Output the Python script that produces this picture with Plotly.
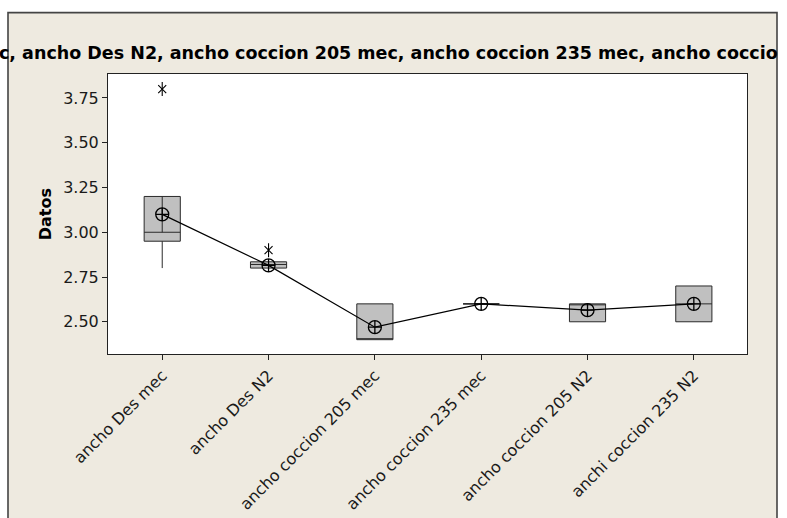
import plotly.graph_objects as go

# Columns compared in the boxplot
categories = ["ancho Des mec", "ancho Des N2", "ancho coccion 205 mec",
              "ancho coccion 235 mec", "ancho coccion 205 N2", "anchi coccion 235 N2"]

# Five-number summaries per column
q1 = [2.95, 2.80, 2.40, 2.60, 2.50, 2.50]
median = [3.00, 2.82, 2.40, 2.60, 2.60, 2.60]
q3 = [3.20, 2.835, 2.60, 2.60, 2.60, 2.70]
lower_whisker = [2.80, 2.80, 2.40, 2.60, 2.50, 2.50]
upper_whisker = [3.20, 2.835, 2.60, 2.60, 2.60, 2.70]

# Column means (connected by a line)
means = [3.10, 2.815, 2.47, 2.60, 2.565, 2.60]

# Outliers
outlier_cat = ["ancho Des mec", "ancho Des N2"]
outlier_val = [3.80, 2.90]

title_text = "c, ancho Des N2, ancho coccion 205 mec, ancho coccion 235 mec, ancho coccio"
y_ticks = [2.50, 2.75, 3.00, 3.25, 3.50, 3.75]

W, H = 787, 518
L, R, T, B = 108, 40, 73.5, 164
pw, ph = W - L - R, H - T - B


def px_x(p):
    return (p - L) / pw


def px_y(p):
    return (H - B - p) / ph


FONT = "DejaVu Sans"
fig = go.Figure()

fig.add_trace(go.Box(
    x=categories, q1=q1, median=median, q3=q3,
    lowerfence=lower_whisker, upperfence=upper_whisker,
    width=0.34, fillcolor="#c0c0c0",
    line=dict(color="#2a2a2a", width=1), whiskerwidth=0,
    boxpoints=False, hoverinfo="skip", showlegend=False,
))

# inner stem from Q3 down to the median on the first box
fig.add_trace(go.Scatter(
    x=[categories[0], categories[0]], y=[q3[0], median[0]], mode="lines",
    line=dict(color="#2a2a2a", width=1), showlegend=False, hoverinfo="skip",
))

fig.add_trace(go.Scatter(
    x=categories, y=means, mode="lines+markers",
    line=dict(color="black", width=1.2),
    marker=dict(symbol="circle-cross-open", size=13, color="black",
                line=dict(color="black", width=1.3)),
    showlegend=False,
))

# six-armed outlier star: a thin x plus a vertical bar
for sym, sz in (("x-thin-open", 8), ("line-ns-open", 10)):
    fig.add_trace(go.Scatter(
        x=outlier_cat, y=outlier_val, mode="markers",
        marker=dict(symbol=sym, size=sz, color="black",
                    line=dict(color="black", width=1.1)),
        showlegend=False,
    ))

fig.update_layout(
    width=W, height=H,
    margin=dict(l=L, r=R, t=T, b=B),
    paper_bgcolor="white", plot_bgcolor="white",
    font=dict(family=FONT, color="#1a1a1a"),
    xaxis=dict(
        type="category", range=[-0.51, 5.5], automargin=False,
        showgrid=False, zeroline=False,
        showline=True, linecolor="#222222", linewidth=1, mirror=True,
        ticks="outside", ticklen=5, tickcolor="#222222",
        tickangle=-45, tickfont=dict(size=16, family=FONT, color="#1a1a1a"),
    ),
    yaxis=dict(
        range=[2.32, 3.884], tickvals=y_ticks, automargin=False,
        ticktext=[f"{v:.2f}" for v in y_ticks],
        showgrid=False, zeroline=False,
        showline=True, linecolor="#222222", linewidth=1, mirror=True,
        ticks="outside", ticklen=5, tickcolor="#222222",
        tickfont=dict(size=16, family=FONT, color="#1a1a1a"),
    ),
    shapes=[
        dict(type="rect", xref="paper", yref="paper",
             x0=px_x(8), x1=px_x(777), y0=px_y(540), y1=px_y(12),
             fillcolor="#eeeae0", line=dict(color="#444444", width=1.6),
             layer="below"),
        dict(type="rect", xref="paper", yref="paper",
             x0=0, x1=1, y0=0, y1=1, fillcolor="white",
             line=dict(width=0), layer="below"),
    ],
    annotations=[
        dict(text="<b>" + title_text + "</b>", xref="paper", yref="paper",
             x=px_x(-3), y=px_y(52), xanchor="left", yanchor="middle",
             showarrow=False, font=dict(size=17.5, family=FONT, color="black")),
        dict(text="<b>Datos</b>", xref="paper", yref="paper",
             x=px_x(45), y=px_y(214), xanchor="center", yanchor="middle",
             textangle=-90, showarrow=False,
             font=dict(size=16, family=FONT, color="black")),
    ],
)

fig.write_html("out.html")
